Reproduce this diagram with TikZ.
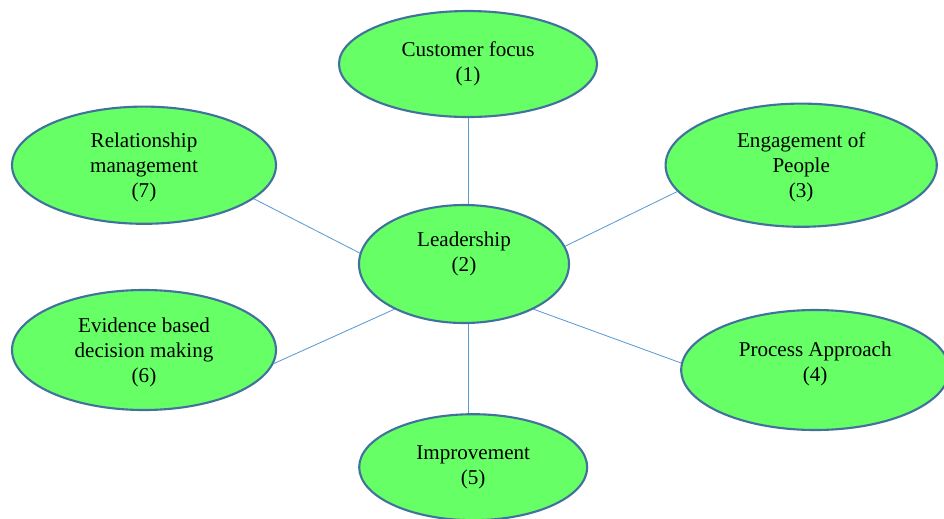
\documentclass[tikz,border=0pt]{standalone}
\usepackage{fontspec}
\setmainfont{Liberation Serif}
\usetikzlibrary{shapes.geometric}
\definecolor{bubblegreen}{HTML}{66FF66}
\definecolor{bubbleedge}{HTML}{41719C}
\definecolor{linkblue}{HTML}{5B9BD5}

\begin{document}
\begin{tikzpicture}[
    bubble/.style={ellipse, draw=bubbleedge, line width=1.5pt, fill=bubblegreen,
      inner sep=0pt, align=center, font=\fontsize{15}{17.8}\selectfont},
    link/.style={draw=linkblue, line width=0.6pt}]
    \useasboundingbox (0,0) rectangle (23.6,-12.95);
    % the seven principles
    \node[bubble, minimum width=5.25cm, minimum height=2.95cm, text depth=0.6cm] (lead) at (11.6,-6.6) {Leadership\\(2)};
    \node[bubble, minimum width=6.45cm, minimum height=2.65cm] (cust) at (11.7,-1.6) {Customer focus\\(1)};
    \node[bubble, minimum width=6.78cm, minimum height=3.08cm, text depth=0cm] (eng) at (20.03,-4.13) {Engagement of\\People\\(3)};
    \node[bubble, minimum width=6.7cm, minimum height=3cm, text depth=0.4cm] (proc) at (20.38,-9.25) {Process Approach\\(4)};
    \node[bubble, minimum width=5.7cm, minimum height=2.65cm] (impr) at (11.83,-11.68) {Improvement\\(5)};
    \node[bubble, minimum width=6.6cm, minimum height=3cm, text depth=0cm] (evid) at (3.6,-8.75) {Evidence based\\decision making\\(6)};
    \node[bubble, minimum width=6.6cm, minimum height=2.93cm, text depth=0cm] (rel) at (3.6,-4.13) {Relationship\\management\\(7)};
    % links to the centre
    \draw[link] (cust.south) -- (cust.south |- lead.north);
    \draw[link] (cust.south |- lead.south) -- (cust.south |- impr.north);
    \draw[link] (lead.10) -- (eng.192);
    \draw[link] (lead.-33) -- (proc.177);
    \draw[link] (lead.213) -- (evid.-6);
    \draw[link] (lead.174) -- (rel.-17);
\end{tikzpicture}
\end{document}
